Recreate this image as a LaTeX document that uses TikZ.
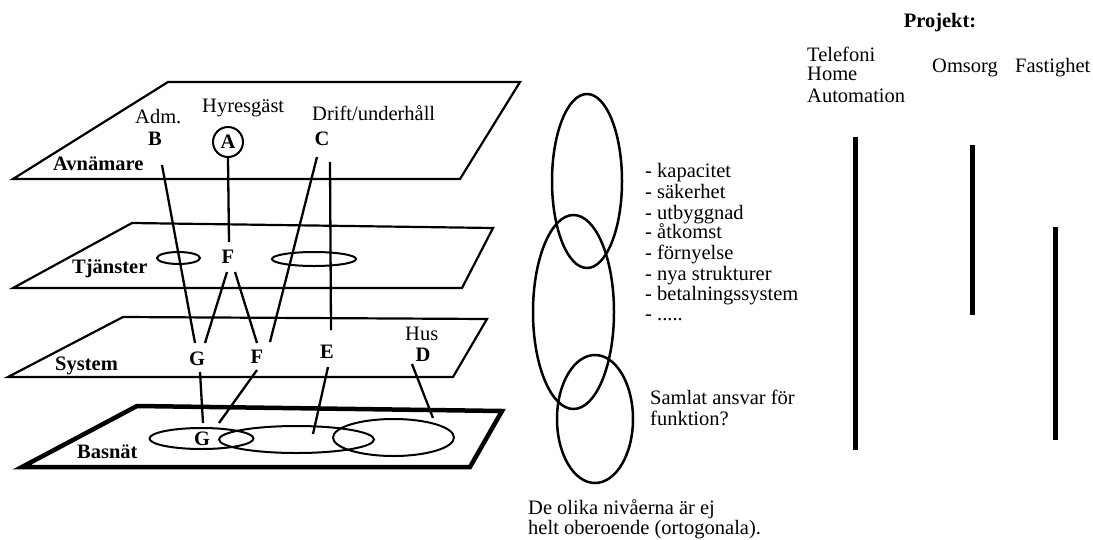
\documentclass[tikz,border=0pt]{standalone}
\usepackage{fontspec}
\setmainfont{Liberation Serif}
\begin{document}
\begin{tikzpicture}[x=1pt,y=-1pt,
  txt/.style={font=\fontsize{20.5}{22}\selectfont, inner sep=0pt},
  bl/.style={font=\fontsize{20.5}{22}\selectfont\bfseries, inner sep=0pt},
  plane/.style={draw, line width=2.2pt, line join=miter},
  baseplane/.style={draw, line width=4.5pt, line join=miter},
  conn/.style={line width=2.3pt},
  ring/.style={draw, line width=2pt},
  bigring/.style={draw, line width=2.5pt},
  bar/.style={line width=5pt}]
\useasboundingbox (0,0) rectangle (1093,539);

% planes
\draw[plane] (168,82) -- (520,82) -- (460,179) -- (13,179) -- cycle;
\draw[plane] (132,223) -- (493,228) -- (462,288) -- (13,288) -- cycle;
\draw[plane] (123,317) -- (487,319) -- (453,377) -- (8,377) -- cycle;
\draw[baseplane] (137,406) -- (502,411) -- (470,467) -- (22,467) -- cycle;

% Avnamare level
\node[bl, anchor=base west] (avn) at (53,170) {Avnämare};
\node[txt, anchor=base west] (adm) at (135,123) {Adm.};
\node[bl, anchor=base] (B) at (155,145) {B};
\node[txt, anchor=base west] (hyr) at (202,112) {Hyresgäst};
\node[bl, draw, circle, line width=2pt, minimum size=30pt, inner sep=0pt] (A) at (228,142) {A};
\node[txt, anchor=base west] (drift) at (312,120) {Drift/underhåll};
\node[bl, anchor=base] (C) at (322,145) {C};

% Tjanster level
\node[bl, anchor=base west] (tj) at (72,273) {Tjänster};
\node[bl, anchor=base] (Ft) at (228,263) {F};
\draw[ring] (178.5,258) ellipse [x radius=21.5, y radius=6];
\draw[ring] (314,259) ellipse [x radius=42, y radius=7];

% System level
\node[bl, anchor=base west] (sys) at (55,370) {System};
\node[bl, anchor=base] (Gs) at (197,365) {G};
\node[bl, anchor=base] (Fs) at (257,363) {F};
\node[bl, anchor=base] (Es) at (327,358) {E};
\node[txt, anchor=base west] (hus) at (405,340) {Hus};
\node[bl, anchor=base] (Ds) at (423,361) {D};

% Basnat level
\node[bl, anchor=base west] (bas) at (77,458) {Basnät};
\node[bl, anchor=base] (Gb) at (202,445) {G};
\draw[ring] (201.5,438.5) ellipse [x radius=52, y radius=10.5];
\draw[ring] (296.5,439.5) ellipse [x radius=77.5, y radius=13.5];
\draw[ring] (393.5,437.5) ellipse [x radius=60.5, y radius=18.5];

% connector end points
\coordinate (b1) at (162,165);  \coordinate (b2) at (195,343);
\coordinate (a2) at (229,242);
\coordinate (c1a) at (317,157); \coordinate (c1b) at (270,342);
\coordinate (c2a) at (330,162); \coordinate (c2b) at (331,330);
\coordinate (f1a) at (227,272); \coordinate (f1b) at (205,343);
\coordinate (f2a) at (235,272); \coordinate (f2b) at (257,343);
\coordinate (g1a) at (200,372); \coordinate (g1b) at (203,423);
\coordinate (g2a) at (257,370); \coordinate (g2b) at (219,423);
\coordinate (e1a) at (328,367); \coordinate (e1b) at (313,434);
\coordinate (d1a) at (412,364); \coordinate (d1b) at (433,418);

\draw[conn] (b1) -- (b2);
\draw[conn] (A.south) -- (a2);
\draw[conn] (c1a) -- (c1b);
\draw[conn] (c2a) -- (c2b);
\draw[conn] (f1a) -- (f1b);
\draw[conn] (f2a) -- (f2b);
\draw[conn] (g1a) -- (g1b);
\draw[conn] (g2a) -- (g2b);
\draw[conn] (e1a) -- (e1b);
\draw[conn] (d1a) -- (d1b);

% right ellipses
\draw[bigring] (587,181) ellipse [x radius=35, y radius=87];
\draw[bigring] (573.5,312) ellipse [x radius=40.5, y radius=97];
\draw[bigring] (595,419) ellipse [x radius=38, y radius=64];

% list
\node[txt, anchor=base west] (l1) at (645,177) {- kapacitet};
\node[txt, anchor=base west] (l2) at (645,198) {- säkerhet};
\node[txt, anchor=base west] (l3) at (645,219) {- utbyggnad};
\node[txt, anchor=base west] (l4) at (645,238) {- åtkomst};
\node[txt, anchor=base west] (l5) at (645,259) {- förnyelse};
\node[txt, anchor=base west] (l6) at (645,280) {- nya strukturer};
\node[txt, anchor=base west] (l7) at (645,300) {- betalningssystem};
\node[txt, anchor=base west] (l8) at (645,320) {- .....};

\node[txt, anchor=base west] (s1) at (650,404) {Samlat ansvar för};
\node[txt, anchor=base west] (s2) at (650,425) {funktion?};

\node[txt, anchor=base west] (d1) at (528,514) {De olika nivåerna är ej};
\node[txt, anchor=base west] (d2) at (528,534) {helt oberoende (ortogonala).};

% projects
\node[bl, anchor=base] (proj) at (940,27) {Projekt:};
\node[txt, anchor=base west] (tel) at (807,61) {Telefoni};
\node[txt, anchor=base west] (home) at (807,80) {Home};
\node[txt, anchor=base west] (auto) at (807,102) {Automation};
\node[txt, anchor=base west] (oms) at (932,72) {Omsorg};
\node[txt, anchor=base west] (fast) at (1015,72) {Fastighet};

\coordinate (p1a) at (855.5,137); \coordinate (p1b) at (855.5,450);
\coordinate (p2a) at (972.5,145); \coordinate (p2b) at (972.5,315);
\coordinate (p3a) at (1055.5,227); \coordinate (p3b) at (1055.5,440);
\draw[bar] (p1a) -- (p1b);
\draw[bar] (p2a) -- (p2b);
\draw[bar] (p3a) -- (p3b);
\end{tikzpicture}
\end{document}
